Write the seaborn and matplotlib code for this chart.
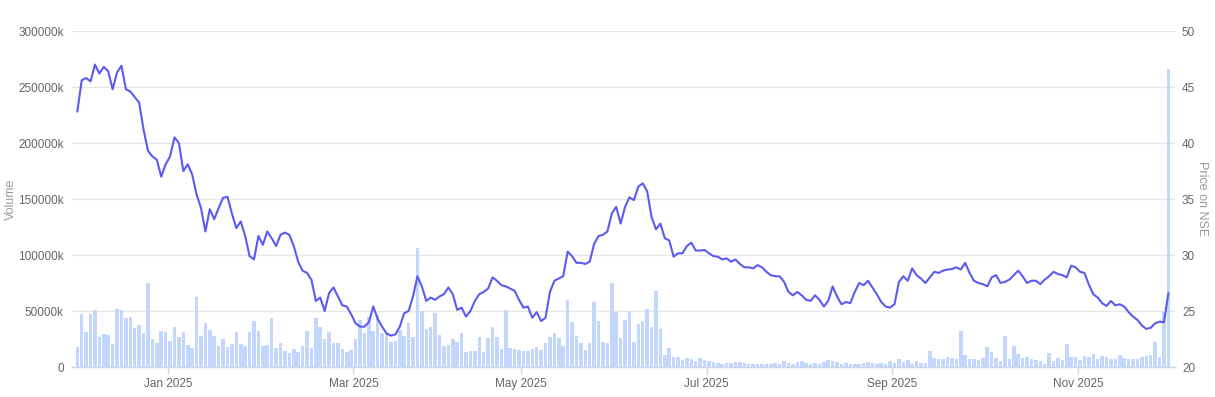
import numpy as np
import pandas as pd
import matplotlib
matplotlib.use("Agg")
import matplotlib.pyplot as plt
from matplotlib.ticker import FuncFormatter, FixedLocator
import seaborn as sns

# ---- categories: NSE trading days ----
holidays = ["2024-12-25", "2025-02-26", "2025-03-14", "2025-03-31", "2025-04-10",
            "2025-04-14", "2025-04-18", "2025-05-01", "2025-08-15", "2025-08-27",
            "2025-10-02", "2025-10-21", "2025-10-22", "2025-11-05"]
trading_days = pd.bdate_range("2024-12-02", "2025-12-02").difference(pd.to_datetime(holidays))

tick_months = ["2025-01-01", "2025-03-01", "2025-05-01", "2025-07-01", "2025-09-01", "2025-11-01"]
tick_labels = ["Jan 2025", "Mar 2025", "May 2025", "Jul 2025", "Sep 2025", "Nov 2025"]

# ---- volume (thousands of shares) ----
volume_k = [
    17.6, 47.6, 31.5, 47.6, 50.6, 27.1, 29.8, 28.6, 20.8, 51.8,
    51.2, 44.0, 44.6, 34.8, 37.5, 30.4, 75.3, 25.3, 21.7, 32.4,
    31.2, 23.5, 35.7, 27.1, 31.0, 19.6, 17.3, 62.8, 28.0, 39.3,
    33.3, 27.4, 19.0, 25.3, 18.2, 20.2, 31.5, 20.8, 19.0, 31.0,
    40.8, 32.1, 18.5, 19.6, 43.7, 17.3, 21.4, 14.3, 12.5, 16.1,
    13.1, 19.0, 31.8, 17.3, 43.7, 35.4, 25.3, 31.0, 21.4, 21.7,
    16.4, 13.1, 15.5, 24.7,
    42, 30, 45, 32, 46, 30, 30, 22, 23, 33, 28, 39, 27, 106, 50, 34, 36, 48,
    29, 19, 20, 25, 22, 30, 13, 14, 14,
    27, 13, 26, 36, 27, 16, 51, 17, 16, 15.5, 14, 14, 16, 18, 15, 21, 27, 30,
    26, 19, 60, 40, 28, 21, 15, 21, 58, 41, 22, 21, 75,
    49, 26, 42, 50, 22, 38, 41, 52, 36, 68, 34, 10.5, 17, 9.3, 8.7, 6.3, 8.4,
    7.2, 5.4, 8.0, 6.3, 5.4, 4.5, 3.6, 3.0, 3.3, 3.3, 4.5, 4.5, 3.3,
    2.7, 2.4, 2.7, 2.4, 2.4, 2.7, 3.3, 2.7, 5.4, 3.3, 2.7, 4.5, 5.1, 3.9, 2.4,
    3.3, 2.4, 4.8, 6.3, 5.7, 4.8, 2.7, 3.3, 2.7, 2.4, 2.7, 3.6, 4.5, 3.3, 2.7,
    3.3, 2.7, 5.1, 3.9, 7.2, 4.2, 6.3, 2.7, 5.1, 3.9, 3.9, 14, 7.8, 7.5, 6.9,
    8.7, 8.1, 7.5, 32, 11, 6.9, 6.9, 6.3, 8.4, 17.7, 13.8, 7.8, 5.7, 28, 6.9,
    18.9, 12,
    8.4, 9, 7.5, 6.3, 5.4, 2.4, 12.9, 5.7, 7.8, 6.3, 20.4, 9, 9, 6.3, 9.9, 9,
    11.7, 7.5, 9.9, 9.3, 7.5, 6.9, 10.5, 8.4, 6.9, 6.9, 6.9, 9, 9.9, 10.8,
    22.5, 9, 48.8, 266,
]
volume_k = [v * 1000 for v in volume_k]

# ---- price on NSE ----
price = [
    42.8, 45.6, 45.8, 45.5, 47.0, 46.2, 46.8, 46.4, 44.8, 46.3,
    46.9, 44.8, 44.6, 44.1, 43.6, 41.2, 39.3, 38.8, 38.5, 37.0,
    38.1, 38.8, 40.5, 40.0, 37.5, 38.1, 37.2, 35.4, 34.2, 32.1,
    34.1, 33.2, 34.2, 35.1, 35.2, 33.7, 32.4, 33.0, 31.7, 29.9,
    29.6, 31.7, 30.9, 32.1, 31.5, 30.8, 31.8, 32.0, 31.8, 30.8,
    29.4, 28.6, 28.4, 27.8, 25.9, 26.2, 25.0, 26.6, 27.1, 26.3,
    25.5, 25.4, 24.7, 23.9, 23.6, 23.6, 24.0, 25.4, 24.3, 23.6,
    23.0, 22.8, 22.9, 23.6, 24.8, 25.0, 26.3, 28.1, 27.2, 25.9,
    26.2, 26.0, 26.3, 26.5, 27.1, 26.5, 25.1, 25.3, 24.5, 25.0,
    25.9,
    26.5, 26.7, 27.0, 28.0, 27.7, 27.3, 27.2, 27.0, 26.8, 26.0,
    25.3, 25.4, 24.4, 24.9, 24.1, 24.4, 26.7, 27.7, 27.9, 28.1,
    30.3, 29.9, 29.3, 29.3, 29.2, 29.4, 31.0, 31.7, 31.8, 32.1,
    33.7, 34.3, 32.8, 34.3, 35.15, 34.9, 36.1, 36.4, 35.7, 33.4,
    32.3, 32.8, 31.5, 31.3, 29.85, 30.15, 30.15, 30.8, 31.1, 30.4,
    30.4, 30.45, 30.15, 29.9, 29.85, 29.6, 29.7, 29.4, 29.6, 29.2,
    28.9, 28.9,
    28.8, 29.1, 28.9, 28.5, 28.2, 28.1, 28.1, 27.6, 26.7, 26.4,
    26.7, 26.4, 26.0, 25.9, 26.4, 26.0, 25.4, 25.9, 27.2, 26.3,
    25.6, 25.8, 25.7, 26.7, 27.5, 27.3, 27.7, 27.1, 26.5,
    25.8, 25.4, 25.3, 25.6, 27.6, 28.1, 27.7, 28.8, 28.2, 27.9,
    27.5, 28.0, 28.5, 28.4, 28.6, 28.7, 28.75, 28.9, 28.7, 29.3,
    28.4, 27.7, 27.5, 27.4, 27.2, 28.0, 28.2, 27.5, 27.6, 27.8,
    28.2,
    28.6, 28.1, 27.5, 27.7, 27.7, 27.4, 27.8, 28.1, 28.5, 28.3,
    28.2, 28.0, 29.05, 28.9, 28.5, 28.4, 27.35, 26.5, 26.2, 25.7,
    25.45, 25.9, 25.5, 25.6, 25.4, 24.9, 24.5, 24.2, 23.7, 23.4,
    23.5, 23.9, 24.05, 24.0, 26.6,
]

volume_ticks = [0, 50000, 100000, 150000, 200000, 250000, 300000]
price_ticks = [20, 25, 30, 35, 40, 45, 50]

# ---- styling ----
BAR = "#c3d6fb"
LINE = "#5b5bf2"
GRID = "#e6e6e6"
TICK_TXT = "#666666"
LABEL_TXT = "#999999"

sns.set_theme(style="white")
plt.rcParams["font.family"] = ["Liberation Sans", "DejaVu Sans"]

pos = np.arange(len(trading_days))
df = pd.DataFrame({"pos": pos, "date": trading_days, "volume": volume_k, "price": price})

W, H = 1215, 397
fig = plt.figure(figsize=(W / 100, H / 100), dpi=100)
L, R, T, B = 72, 1175, 31, 367
ax1 = fig.add_axes([L / W, (H - B) / H, (R - L) / W, (B - T) / H])

sns.barplot(data=df, x="pos", y="volume", native_scale=True, color=BAR,
            saturation=1, width=0.8, errorbar=None, ax=ax1, linewidth=0)

ax1.set_ylim(0, 300000)
ax1.yaxis.set_major_locator(FixedLocator(volume_ticks))
ax1.yaxis.set_major_formatter(FuncFormatter(lambda v, p: "0" if v == 0 else f"{int(v)}k"))
ax1.grid(axis="y", color=GRID, linewidth=1)
ax1.grid(axis="x", visible=False)
ax1.set_axisbelow(True)

tick_pos = [int(np.searchsorted(trading_days, pd.Timestamp(m))) - 0.5 for m in tick_months]
ax1.set_xlim(-1.2, 248.5)
ax1.xaxis.set_major_locator(FixedLocator(tick_pos))
ax1.set_xticklabels(tick_labels)
ax1.tick_params(axis="x", length=5, width=1, color="#ccd6eb", labelsize=8.5,
                labelcolor=TICK_TXT, pad=3, bottom=True)
ax1.tick_params(axis="y", length=0, labelsize=8.5, labelcolor=TICK_TXT, pad=6)
ax1.set_xlabel("")
ax1.set_ylabel("Volume", color=LABEL_TXT, fontsize=9, labelpad=1)

for s in ["top", "right", "left"]:
    ax1.spines[s].set_visible(False)
ax1.spines["bottom"].set_color("#ccd6eb")
ax1.spines["bottom"].set_linewidth(1)

ax2 = ax1.twinx()
sns.lineplot(data=df, x="pos", y="price", ax=ax2, color=LINE, linewidth=1.5)
ax2.set_ylim(20, 50)
ax2.yaxis.set_major_locator(FixedLocator(price_ticks))
ax2.tick_params(axis="y", length=0, labelsize=8.5, labelcolor=TICK_TXT, pad=5)
ax2.set_ylabel("Price on NSE", color=LABEL_TXT, fontsize=9, rotation=270, labelpad=9)
ax2.set_xlabel("")
ax2.grid(False)
for s in ["top", "right", "left", "bottom"]:
    ax2.spines[s].set_visible(False)
ax1.set_xlim(-1.2, 248.5)

fig.savefig("out.png", dpi=100)
